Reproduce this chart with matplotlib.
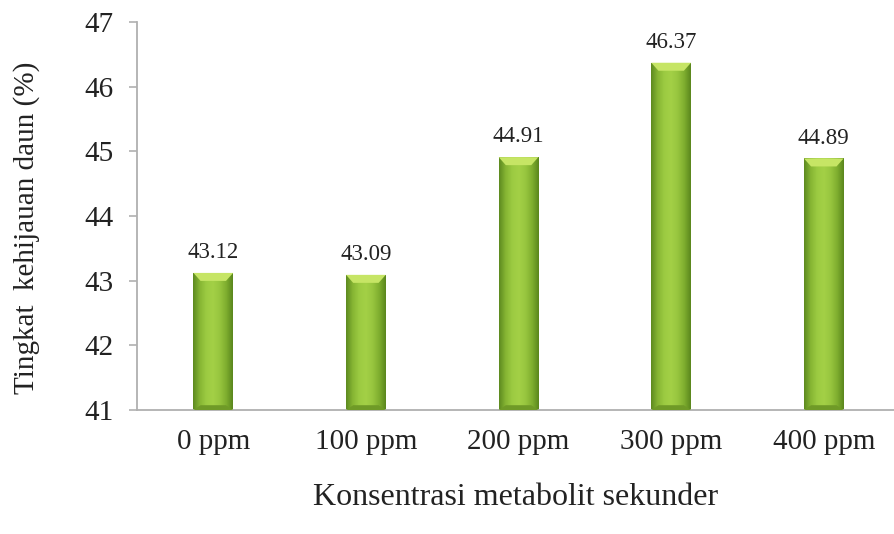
import numpy as np
import matplotlib
matplotlib.use("Agg")
import matplotlib.pyplot as plt
from matplotlib.colors import LinearSegmentedColormap
from matplotlib.patches import Polygon

# data
categories = ['0 ppm', '100 ppm', '200 ppm', '300 ppm', '400 ppm']
values = [43.12, 43.09, 44.91, 46.37, 44.89]
value_labels = ['43.12', '43.09', '44.91', '46.37', '44.89']
y_ticks = [41, 42, 43, 44, 45, 46, 47]

plt.rcParams['font.family'] = ['Liberation Serif', 'DejaVu Serif']

fig = plt.figure(figsize=(8.94, 5.34), dpi=100)
ax = fig.add_axes([0.1532, 0.2322, 0.8468, 0.7266])

x = np.arange(len(categories))
bar_w = 0.26
bars = ax.bar(x, values, width=bar_w, color='#94c23c', zorder=2)

ymin, ymax = 41, 47
ax.set_ylim(ymin, ymax)
ax.set_xlim(-0.5, 4.46)

# shaded "bevel" look for each bar
side = LinearSegmentedColormap.from_list(
    'side', ['#5d8a1f', '#86b533', '#9ccb42', '#a3d046', '#98c63f', '#7fae2f', '#5a861d'])
grad = np.linspace(0, 1, 200).reshape(1, -1)
px_per_unit = (0.7266 * 534) / (ymax - ymin)
bevel_h = 8 / px_per_unit
for b in bars:
    x0, w, h = b.get_x(), b.get_width(), b.get_height()
    b.set_facecolor('none')
    b.set_edgecolor('none')
    im = ax.imshow(grad, cmap=side, extent=[x0, x0 + w, ymin, h],
                   aspect='auto', zorder=2, interpolation='bilinear')
    im.set_clip_path(b)
    dx = w * 0.18
    top = Polygon([[x0, h], [x0 + w, h], [x0 + w - dx, h - bevel_h],
                   [x0 + dx, h - bevel_h]], closed=True,
                  facecolor='#c6e565', edgecolor='none', zorder=3)
    ax.add_patch(top)
    bottom = Polygon([[x0, ymin], [x0 + w, ymin], [x0 + w - dx, ymin + bevel_h * 0.6],
                      [x0 + dx, ymin + bevel_h * 0.6]], closed=True,
                     facecolor='#6f9a27', edgecolor='none', zorder=3)
    ax.add_patch(bottom)

for xi, v, lab in zip(x, values, value_labels):
    ax.annotate(lab, (xi, v), xytext=(0, 7), textcoords='offset points',
                ha='center', va='bottom', fontsize=16.5, color='#222222')

ax.set_yticks(y_ticks)
ax.set_xticks(x)
ax.set_xticklabels(categories)
ax.tick_params(axis='y', direction='out', length=6, width=1.2, color='#b0b0b0',
               labelsize=21, pad=11, labelcolor='#222222')
ax.tick_params(axis='x', length=0, labelsize=21, pad=14, labelcolor='#222222')

for s in ['top', 'right']:
    ax.spines[s].set_visible(False)
for s in ['left', 'bottom']:
    ax.spines[s].set_color('#b0b0b0')
    ax.spines[s].set_linewidth(1.3)

ax.set_xlabel('Konsentrasi metabolit sekunder', fontsize=23, labelpad=20, color='#222222')
ax.set_ylabel('Tingkat  kehijauan daun (%)', fontsize=21, color='#222222')
ax.yaxis.set_label_coords(-0.128, 0.47)

fig.savefig('out.png', dpi=100)
